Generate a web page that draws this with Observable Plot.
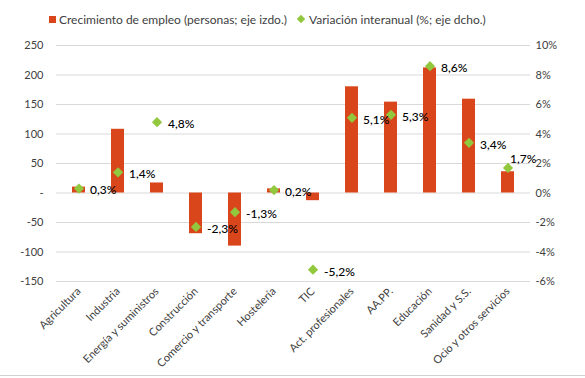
<!DOCTYPE html>
<html>
<head>
<meta charset="utf-8">
<script src="https://cdn.jsdelivr.net/npm/d3@7"></script>
<script src="https://cdn.jsdelivr.net/npm/@observablehq/plot@0.6"></script>
<style>
  html, body { margin: 0; padding: 0; background: #fff; }
  body { width: 585px; height: 378px; position: relative; overflow: hidden; font-family: "Lato", "Open Sans", sans-serif; }
  #legend { height: 30px; display: flex; justify-content: flex-start; align-items: center; gap: 11px; font-size: 12px; color: #404040; padding-top: 8px; padding-left: 49px; box-sizing: border-box; }
  .item { display: flex; align-items: center; gap: 3px; }
  .sq { width: 7px; height: 7px; background: #D9461B; display: inline-block; }
  .dm { width: 6px; height: 6px; background: #92C83E; display: inline-block; transform: rotate(45deg); margin-right: 2px; }
  #frame { position: absolute; left: 0; right: 0; top: 375px; border-top: 1px solid #d0d0d0; }
</style>
</head>
<body>
<div id="legend">
  <span class="item"><span class="sq"></span>Crecimiento de empleo (personas; eje izdo.)</span>
  <span class="item"><span class="dm"></span>Variación interanual (%; eje dcho.)</span>
</div>
<div id="chart"></div>
<div id="frame"></div>
<script>
const categories = ["Agricultura", "Industria", "Energía y suministros", "Construcción", "Comercio y transporte", "Hostelería", "TIC", "Act. profesionales", "AA.PP.", "Educación", "Sanidad y S.S.", "Ocio y otros servicios"];
const empleo = [10, 108, 17, -69, -90, 7, -13, 180, 154, 212, 159, 36];
const variacion = [0.3, 1.4, 4.8, -2.3, -1.3, 0.2, -5.2, 5.1, 5.3, 8.6, 3.4, 1.7];
const leftTicks = [-150, -100, -50, 0, 50, 100, 150, 200, 250];
const rightTicks = [-6, -4, -2, 0, 2, 4, 6, 8, 10];

const ratio = 25; // 1% on the right axis = 25 persons on the left axis
const data = categories.map((c, i) => ({cat: c, empleo: empleo[i], pct: variacion[i], y2: variacion[i] * ratio, i}));
const fmtPct = v => v.toFixed(1).replace(".", ",") + "%";
const last = data.length - 1;

const chart = Plot.plot({
  width: 585,
  height: 348,
  marginTop: 15,
  marginBottom: 97,
  marginLeft: 56,
  marginRight: 55,
  style: {fontFamily: "Lato, 'Open Sans', sans-serif", fontSize: "11px", color: "#404040"},
  x: {type: "band", domain: categories, paddingInner: 0.67, paddingOuter: 0.335, label: null},
  y: {domain: [-150, 250], label: null},
  marks: [
    Plot.gridY(leftTicks, {stroke: "#d9d9d9", strokeOpacity: 1}),
    Plot.barY(data, {x: "cat", y: "empleo", fill: "#D9461B"}),
    Plot.dot(data, {x: "cat", y: "y2", symbol: "diamond2", r: 4.6, fill: "#92C83E", stroke: "none"}),
    Plot.text(data.filter(d => d.i !== last), {x: "cat", y: "y2", text: d => fmtPct(d.pct), textAnchor: "start", dx: 11, dy: 2, fill: "#000", fontSize: 12, fontWeight: 500}),
    Plot.text(data.filter(d => d.i === last), {x: "cat", y: "y2", text: d => fmtPct(d.pct), textAnchor: "start", dx: 2, dy: -9, fill: "#000", fontSize: 12, fontWeight: 500}),
    Plot.axisY(leftTicks, {anchor: "left", tickSize: 0, tickPadding: 13, tickFormat: d => d === 0 ? "-" : String(d), label: null}),
    Plot.axisY(rightTicks.map(p => p * ratio), {anchor: "right", tickSize: 0, tickPadding: 5, tickFormat: d => (d / ratio) + "%", label: null}),
    Plot.axisX({tickSize: 0, tickRotate: -45, tickPadding: 8, label: null})
  ]
});
document.getElementById("chart").appendChild(chart);
</script>
</body>
</html>
